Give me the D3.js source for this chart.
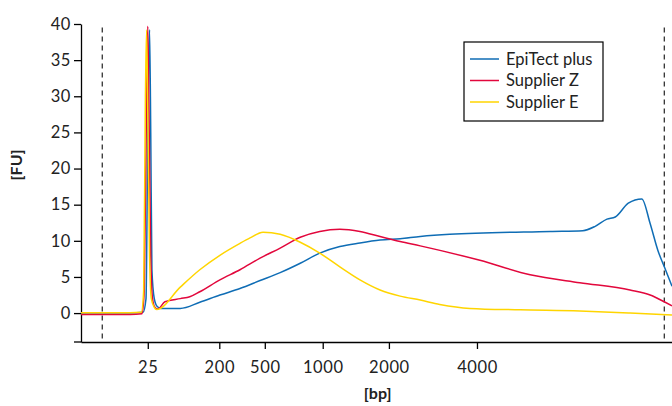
<!DOCTYPE html>
<meta charset="utf-8">
<style>
body { margin: 0; background: #fff; }
text { font-family: Lato, "Noto Sans", sans-serif; fill: #222; }
.axis path, .axis line { stroke: #000; stroke-width: 1.3; }
.axis text { font-size: 16.5px; letter-spacing: 0.6px; }
.series { fill: none; stroke-width: 1.5; stroke-linejoin: round; }
.marker { stroke: #333; stroke-width: 1.3; stroke-dasharray: 5,4; }
</style>
<body></body>
<script src="https://cdn.jsdelivr.net/npm/d3@7"></script>
<script>

// x values are relative migration positions (0-100), y values in FU
var blueX = [0, 8.3, 10.5, 11.0, 11.3, 11.6, 11.8, 12.0, 12.4, 12.9, 13.5, 16.8, 20.1, 23.5, 26.9, 30.3, 33.7, 37.1, 40.4, 43.8, 47.2, 50.6, 54.0, 57.4, 62.4, 79.4, 84.9, 87.0, 89.0, 90.4, 92.6, 94.9, 96.3, 97.6, 98.8, 100];
var blueY = [0, 0, 0.1, 2, 25, 39.2, 25, 6, 2, 0.9, 0.65, 0.65, 1.5, 2.5, 3.4, 4.5, 5.6, 6.9, 8.3, 9.2, 9.7, 10.1, 10.3, 10.6, 10.9, 11.3, 11.4, 12.0, 13.0, 13.3, 15.2, 15.8, 12.4, 8.7, 6.2, 3.7];

var redX = [0, 8.3, 10.3, 10.7, 11.1, 11.3, 11.5, 11.8, 12.1, 12.5, 13.0, 14.2, 16.8, 18.4, 20.1, 23.5, 26.9, 30.3, 33.7, 37.1, 40.4, 43.8, 47.2, 50.6, 54.0, 57.4, 67.5, 76.0, 84.4, 92.9, 96.3, 98.6, 100];
var redY = [-0.2, -0.2, -0.1, 3, 30, 39.7, 28, 8, 2, 0.8, 0.55, 1.56, 2.0, 2.25, 2.95, 4.6, 6.0, 7.6, 9.0, 10.5, 11.3, 11.6, 11.3, 10.6, 9.9, 9.3, 7.3, 5.3, 4.2, 3.2, 2.5, 1.6, 1.0];

var yellowX = [0, 8.3, 10.2, 10.6, 10.9, 11.1, 11.3, 11.6, 11.9, 12.4, 12.8, 16.8, 20.1, 23.5, 26.9, 28.6, 30.8, 33.7, 37.1, 40.4, 43.8, 47.2, 50.6, 54.0, 57.4, 60.7, 65.8, 74.3, 84.4, 92.9, 100];
var yellowY = [0.05, 0.05, 0.1, 3, 30, 39.2, 28, 8, 2, 0.8, 0.5, 3.6, 6.0, 8.0, 9.65, 10.4, 11.2, 10.9, 9.8, 8.3, 6.4, 4.6, 3.2, 2.35, 1.8, 1.2, 0.65, 0.45, 0.28, 0.0, -0.28];

var seriesNames = ["EpiTect plus", "Supplier Z", "Supplier E"];
var seriesColors = ["#0f6db5", "#e2073c", "#ffd500"];

var bpTicks = [11.3, 23.4, 31.1, 40.9, 52.1, 67.0];
var bpLabels = ["25", "200", "500", "1000", "2000", "4000"];
var markers = [3.6, 98.7];
var fuTicks = [0, 5, 10, 15, 20, 25, 30, 35, 40];

var W = 672, H = 406;
var margin = {top: 24, right: 0, bottom: 64, left: 81};

var svg = d3.select("body").append("svg")
    .attr("width", W)
    .attr("height", H);

var x = d3.scaleLinear().domain([0, 100]).range([margin.left, W - margin.right]);
var y = d3.scaleLinear().domain([-4, 40]).range([H - margin.bottom, margin.top]);

// axes
svg.append("g")
    .attr("class", "axis")
    .attr("transform", "translate(" + margin.left + ",0)")
    .call(d3.axisLeft(y).tickValues(fuTicks).tickSize(7).tickSizeOuter(0).tickPadding(3));

var xa = svg.append("g")
    .attr("class", "axis")
    .attr("transform", "translate(0," + (H - margin.bottom) + ")")
    .call(d3.axisBottom(x).tickValues(bpTicks).tickFormat(function(d, i) { return bpLabels[i]; })
      .tickSize(7).tickSizeOuter(0).tickPadding(12));
xa.append("line")
    .attr("x1", margin.left - 7).attr("x2", margin.left)
    .attr("y1", 0).attr("y2", 0);

// dashed region markers
svg.selectAll(".marker")
    .data(markers)
    .enter().append("line")
    .attr("class", "marker")
    .attr("x1", function(d) { return x(d); })
    .attr("x2", function(d) { return x(d); })
    .attr("y1", y(39.5))
    .attr("y2", y(-4));

// series
var series = [
  {xs: blueX, ys: blueY},
  {xs: redX, ys: redY},
  {xs: yellowX, ys: yellowY}
];

var line = d3.line()
    .x(function(d) { return x(d[0]); })
    .y(function(d) { return y(d[1]); })
    .curve(d3.curveMonotoneX);

svg.append("defs").append("clipPath").attr("id", "clip")
  .append("rect")
    .attr("x", margin.left).attr("y", 0)
    .attr("width", W - margin.left).attr("height", H - margin.bottom);

series.forEach(function(s, i) {
  svg.append("path")
      .datum(d3.zip(s.xs, s.ys))
      .attr("class", "series")
      .attr("clip-path", "url(#clip)")
      .attr("stroke", seriesColors[i])
      .attr("d", line);
});

// axis titles
svg.append("text")
    .attr("transform", "translate(22," + y(20.5) + ") rotate(-90)")
    .attr("text-anchor", "middle")
    .style("font-size", "16px")
    .style("font-weight", "bold")
    .text("[FU]");

svg.append("text")
    .attr("x", x(50.2))
    .attr("y", 399)
    .attr("text-anchor", "middle")
    .style("font-size", "16px")
    .style("font-weight", "bold")
    .text("[bp]");

// legend
var lg = svg.append("g").attr("transform", "translate(464,42)");
lg.append("rect")
    .attr("width", 139).attr("height", 79)
    .attr("fill", "#fff").attr("stroke", "#000").attr("stroke-width", 1.2);
seriesNames.forEach(function(n, i) {
  var yy = 17 + i * 21.5;
  lg.append("line")
      .attr("x1", 6).attr("x2", 35)
      .attr("y1", yy).attr("y2", yy)
      .attr("stroke", seriesColors[i]).attr("stroke-width", 1.5);
  lg.append("text")
      .attr("x", 42).attr("y", yy)
      .attr("dy", "0.35em")
      .style("font-size", "16.5px")
      .text(n);
});

</script>
